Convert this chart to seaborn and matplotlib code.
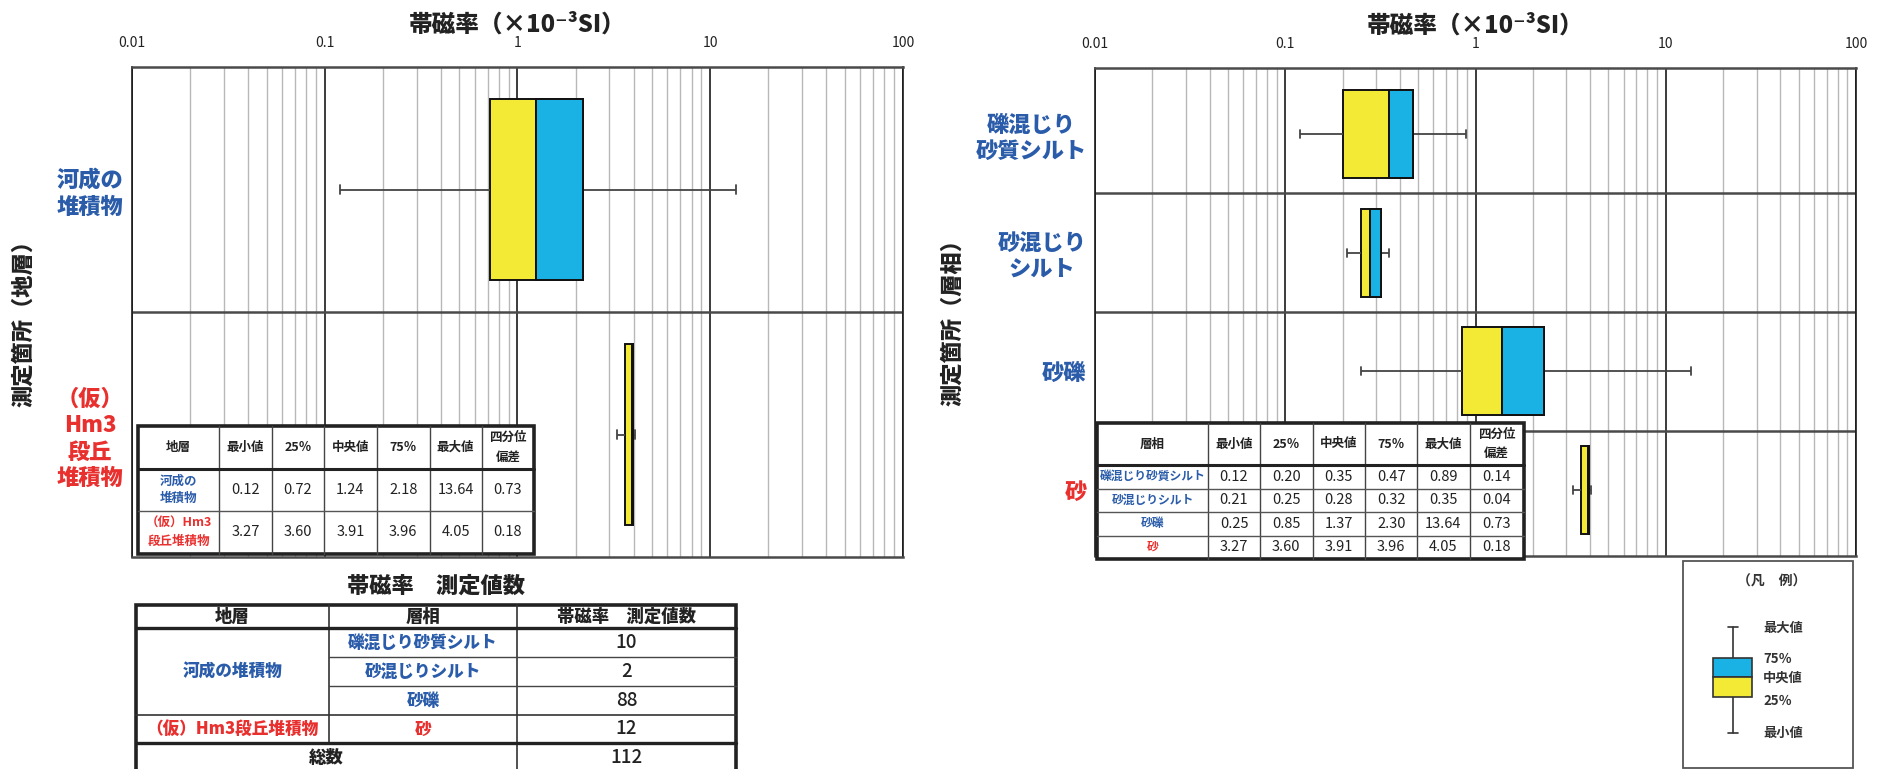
import numpy as np
import pandas as pd
import seaborn as sns
import matplotlib.pyplot as plt
from matplotlib.patches import Rectangle
from matplotlib.ticker import FuncFormatter, NullFormatter

# 地層ごとの帯磁率 (×10^-3 SI)
strata_labels = ["河成の\n堆積物", "（仮）\nHm3\n段丘\n堆積物"]
strata_table_names = ["河成の\n堆積物", "（仮）Hm3\n段丘堆積物"]
strata_min = [0.12, 3.27]
strata_q1 = [0.72, 3.60]
strata_med = [1.24, 3.91]
strata_q3 = [2.18, 3.96]
strata_max = [13.64, 4.05]
strata_qd = [0.73, 0.18]

# 層相ごとの帯磁率
facies_labels = ["礫混じり\n砂質シルト", "砂混じり\nシルト", "砂礫", "砂"]
facies_names = ["礫混じり砂質シルト", "砂混じりシルト", "砂礫", "砂"]
facies_min = [0.12, 0.21, 0.25, 3.27]
facies_q1 = [0.20, 0.25, 0.85, 3.60]
facies_med = [0.35, 0.28, 1.37, 3.91]
facies_q3 = [0.47, 0.32, 2.30, 3.96]
facies_max = [0.89, 0.35, 13.64, 4.05]
facies_qd = [0.14, 0.04, 0.73, 0.18]

# 測定値数
count_strata = ["河成の堆積物", "（仮）Hm3段丘堆積物"]
count_facies = ["礫混じり砂質シルト", "砂混じりシルト", "砂礫", "砂"]
count_values = [10, 2, 88, 12]

stat_cols = ["最小値", "25％", "中央値", "75％", "最大値", "四分位\n偏差"]
x_ticks = [0.01, 0.1, 1, 10, 100]

BLUE_TXT = "#2a5caa"
RED_TXT = "#e8302f"
YELLOW = "#f3ea35"
CYAN = "#1ab1e4"
HEAVY = "black"
strata_colors = [BLUE_TXT, RED_TXT]
facies_colors = [BLUE_TXT, BLUE_TXT, BLUE_TXT, RED_TXT]

sns.set_style("white")
plt.rcParams["font.family"] = ["Noto Sans CJK JP", "DejaVu Sans"]

W, H = 1883, 769
fig = plt.figure(figsize=(W / 100, H / 100), dpi=100)


def px_axes(x0, y0, x1, y1):
    return fig.add_axes([x0 / W, 1 - y1 / H, (x1 - x0) / W, (y1 - y0) / H])


def box_panel(ax, labels, colors, mins, q1, med, q3, maxs, capw):
    df = pd.DataFrame(
        [(lab, v) for lab, vals in zip(labels, zip(mins, q1, med, q3, maxs)) for v in vals],
        columns=["cat", "value"],
    )
    sns.boxplot(data=df, x="value", y="cat", order=labels, whis=(0, 100),
                width=0.74, color=YELLOW, saturation=1, linecolor="#111",
                linewidth=1.4, showfliers=False, log_scale=True,
                capwidths=capw, whiskerprops=dict(color="#444", linewidth=1.3),
                capprops=dict(color="#444", linewidth=1.3), ax=ax)
    pos = np.arange(len(labels))
    ax.barh(pos, np.array(q3) - np.array(med), left=med, height=0.74,
            color=CYAN, edgecolor="#111", linewidth=1.4, zorder=2.5)

    ax.set_xlim(0.01, 100)
    ax.set_xticks(x_ticks)
    ax.xaxis.set_major_formatter(FuncFormatter(lambda v, _: f"{v:g}"))
    ax.xaxis.set_minor_formatter(NullFormatter())
    ax.xaxis.set_ticks_position("top")
    ax.tick_params(axis="x", which="both", length=0, labelsize=10, pad=12,
                   labeltop=True, labelbottom=False, labelcolor="#222")
    ax.set_axisbelow(True)
    ax.grid(True, which="minor", axis="x", color="#b8b8b8", lw=1)
    ax.grid(True, which="major", axis="x", color="#1a1a1a", lw=1.2)
    for b in np.arange(0.5, len(labels) - 0.5):
        ax.axhline(b, color="#4a4a4a", lw=1.8, zorder=1)
    for s in ["top", "bottom"]:
        ax.spines[s].set_color("#4a4a4a")
        ax.spines[s].set_linewidth(1.8)
    for s in ["left", "right"]:
        ax.spines[s].set_color("#1a1a1a")
        ax.spines[s].set_linewidth(1.2)

    ax.set_yticks(np.arange(-0.5, len(labels)), minor=True)
    ax.tick_params(axis="y", which="minor", length=5, width=1.8, color="#4a4a4a")
    ax.tick_params(axis="y", which="major", length=0, pad=6)
    for lbl, c in zip(ax.get_yticklabels(), colors):
        lbl.set_color(c)
        lbl.set_fontsize(16)
        lbl.set_fontweight(HEAVY)
        lbl.set_multialignment("center")
    ax.set_xlabel("")
    ax.set_ylabel("")
    ax.text(0.5, 1.088, "帯磁率（×10⁻³SI）", transform=ax.transAxes,
            ha="center", va="center", fontsize=17, fontweight=HEAVY, color="#222")


ax1 = px_axes(132, 67, 903, 557)
box_panel(ax1, strata_labels, strata_colors, strata_min, strata_q1, strata_med,
          strata_q3, strata_max, 0.035)
ax2 = px_axes(1095, 68, 1856, 556)
box_panel(ax2, facies_labels, facies_colors, facies_min, facies_q1, facies_med,
          facies_q3, facies_max, 0.065)

fig.text(24 / W, 1 - 318 / H, "測定箇所（地層）", rotation=90, ha="center",
         va="center", fontsize=16, fontweight=HEAVY, color="#222")
fig.text(953 / W, 1 - 317 / H, "測定箇所（層相）", rotation=90, ha="center",
         va="center", fontsize=16, fontweight=HEAVY, color="#222")

# 表と凡例は画素座標のオーバーレイに描く
ov = fig.add_axes([0, 0, 1, 1], facecolor="none")
ov.set_xlim(0, W)
ov.set_ylim(H, 0)
ov.axis("off")


def stats_table(left, top, col_w, row_h, first_head, names, colors, stats,
                name_size):
    xs = left + np.concatenate([[0], np.cumsum(col_w)])
    ys = top + np.concatenate([[0], np.cumsum(row_h)])
    ov.add_patch(Rectangle((xs[0], ys[0]), xs[-1] - xs[0], ys[-1] - ys[0],
                           facecolor="white", edgecolor="#222", lw=2.6, zorder=3))
    for x in xs[1:-1]:
        ov.plot([x, x], [ys[0], ys[-1]], color="#444", lw=1, zorder=4)
    for i, y in enumerate(ys[1:-1]):
        ov.plot([xs[0], xs[-1]], [y, y], color="#222" if i == 0 else "#555",
                lw=2.2 if i == 0 else 1, zorder=4)
    cx = (xs[:-1] + xs[1:]) / 2
    cy = (ys[:-1] + ys[1:]) / 2
    for c, head in enumerate([first_head] + stat_cols):
        ov.text(cx[c], cy[0], head, ha="center", va="center", fontsize=9,
                fontweight="bold", color="#222", linespacing=1.6, zorder=5)
    for r, (name, col) in enumerate(zip(names, colors)):
        ov.text(cx[0], cy[r + 1], name, ha="center", va="center",
                fontsize=name_size, fontweight="bold", color=col,
                linespacing=1.5, zorder=5)
        for c, v in enumerate(stats[r]):
            ov.text(cx[c + 1], cy[r + 1], f"{v:.2f}", ha="center", va="center",
                    fontsize=10.5, color="#222", zorder=5)


stats_table(138, 426, np.array([135, 88, 87, 88, 88, 87, 87]) * 0.6,
            [42.5, 42.5, 43], "地層", strata_table_names, strata_colors,
            list(zip(strata_min, strata_q1, strata_med, strata_q3, strata_max, strata_qd)),
            9)
stats_table(1097, 423, np.array([185, 86, 88, 87, 87, 87, 90]) * 0.601,
            [42, 23.5, 23.5, 23.5, 23.5], "層相", facies_names, facies_colors,
            list(zip(facies_min, facies_q1, facies_med, facies_q3, facies_max, facies_qd)),
            8.5)

# 帯磁率 測定値数の表
ov.text(436, 586, "帯磁率　測定値数", ha="center", va="center", fontsize=16,
        fontweight=HEAVY, color="#222")
tx = [136, 329, 517, 736]
ty = [605, 628, 657, 686, 715, 743, 772]
ov.add_patch(Rectangle((tx[0], ty[0]), tx[-1] - tx[0], ty[-1] - ty[0],
                       facecolor="white", edgecolor="#222", lw=2.6, zorder=3))
ov.plot([tx[1], tx[1]], [ty[0], ty[5]], color="#333", lw=1.2, zorder=4)
ov.plot([tx[2], tx[2]], [ty[0], ty[6]], color="#333", lw=1.2, zorder=4)
ov.plot([tx[0], tx[3]], [ty[1], ty[1]], color="#222", lw=2.4, zorder=4)
for y in ty[2:4]:
    ov.plot([tx[1], tx[3]], [y, y], color="#444", lw=1, zorder=4)
ov.plot([tx[0], tx[3]], [ty[4], ty[4]], color="#333", lw=1.2, zorder=4)
ov.plot([tx[0], tx[3]], [ty[5], ty[5]], color="#222", lw=2.4, zorder=4)
ccx = [(tx[i] + tx[i + 1]) / 2 for i in range(3)]
rcy = [(ty[i] + ty[i + 1]) / 2 for i in range(6)]
for x, head in zip(ccx, ["地層", "層相", "帯磁率　測定値数"]):
    ov.text(x, rcy[0], head, ha="center", va="center", fontsize=12.5,
            fontweight=HEAVY, color="#222", zorder=5)
ov.text(ccx[0], (ty[1] + ty[4]) / 2, count_strata[0], ha="center", va="center",
        fontsize=12, fontweight=HEAVY, color=BLUE_TXT, zorder=5)
ov.text(ccx[0], rcy[4], count_strata[1], ha="center", va="center",
        fontsize=12, fontweight=HEAVY, color=RED_TXT, zorder=5)
for i, (name, n, col) in enumerate(zip(count_facies, count_values, facies_colors)):
    ov.text(ccx[1], rcy[i + 1], name, ha="center", va="center", fontsize=12,
            fontweight=HEAVY, color=col, zorder=5)
    ov.text(ccx[2], rcy[i + 1], str(n), ha="center", va="center", fontsize=13.5,
            fontweight="medium", color="#222", zorder=5)
ov.text((tx[0] + tx[2]) / 2, rcy[5], "総数", ha="center", va="center",
        fontsize=12.5, fontweight=HEAVY, color="#222", zorder=5)
ov.text(ccx[2], rcy[5], str(sum(count_values)), ha="center", va="center",
        fontsize=13.5, fontweight="medium", color="#222", zorder=5)

# 凡例
ov.add_patch(Rectangle((1683, 561), 170, 207, facecolor="white",
                       edgecolor="#555", lw=1.3, zorder=3))
ov.text(1772, 582, "（凡　例）", ha="center", va="center", fontsize=10,
        fontweight="bold", color="#333", zorder=5)
ov.plot([1733, 1733], [627, 733], color="#333", lw=1.2, zorder=4)
for y in [627, 733]:
    ov.plot([1728, 1738], [y, y], color="#333", lw=1.2, zorder=4)
ov.add_patch(Rectangle((1713, 658), 39, 19, facecolor=CYAN, edgecolor="#333",
                       lw=1.2, zorder=5))
ov.add_patch(Rectangle((1713, 677), 39, 20, facecolor=YELLOW, edgecolor="#333",
                       lw=1.2, zorder=5))
for y, t in zip([628, 659, 678, 701, 733], ["最大値", "75％", "中央値", "25％", "最小値"]):
    ov.text(1763, y, t, ha="left", va="center", fontsize=9.5, fontweight="bold",
            color="#333", zorder=5)

fig.savefig("out.png", dpi=100)
